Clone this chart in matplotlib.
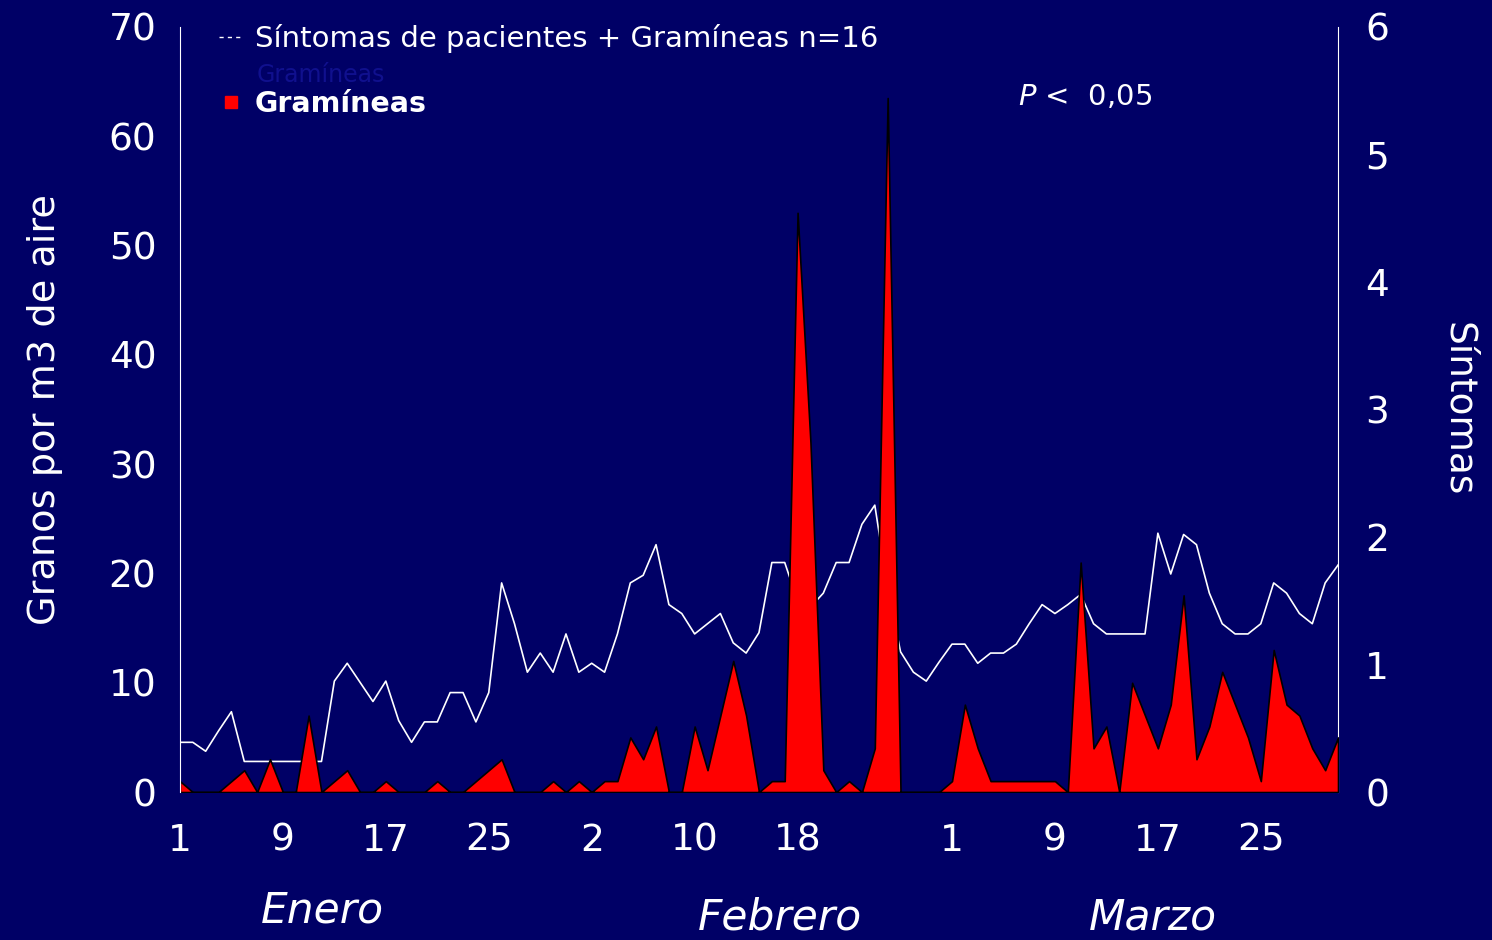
import matplotlib.pyplot as plt
import numpy as np
from matplotlib.lines import Line2D

# días 1..91 (1 enero - 31 marzo)
gramineas = [1, 0, 0, 0, 1, 2, 0, 3, 0, 0, 7, 0, 1, 2, 0, 0, 1, 0, 0, 0,
             1, 0, 0, 1, 2, 3, 0, 0, 0, 1, 0, 1, 0, 1, 1, 5, 3, 6, 0, 0,
             6, 2, 7, 12, 7, 0, 1, 1, 53, 32, 2, 0, 1, 0, 4, 63.5, 0, 0, 0, 0,
             1, 8, 4, 1, 1, 1, 1, 1, 1, 0, 21, 4, 6, 0, 10, 7, 4, 8, 18, 3,
             6, 11, 8, 5, 1, 13, 8, 7, 4, 2, 5]
sintomas = [0.39, 0.39, 0.32, 0.48, 0.63, 0.24, 0.24, 0.24, 0.24, 0.24,
            0.24, 0.24, 0.87, 1.01, 0.86, 0.71, 0.87, 0.56, 0.39, 0.55,
            0.55, 0.78, 0.78, 0.55, 0.78, 1.64, 1.32, 0.94, 1.09, 0.94,
            1.24, 0.94, 1.01, 0.94, 1.24, 1.64, 1.70, 1.94, 1.47, 1.40,
            1.24, 1.32, 1.40, 1.17, 1.09, 1.25, 1.80, 1.80, 1.50, 1.45,
            1.56, 1.80, 1.80, 2.10, 2.25, 1.60, 1.10, 0.94, 0.87, 1.02,
            1.16, 1.16, 1.01, 1.09, 1.09, 1.16, 1.32, 1.47, 1.40, 1.47,
            1.55, 1.32, 1.24, 1.24, 1.24, 1.24, 2.03, 1.71, 2.02, 1.94,
            1.56, 1.32, 1.24, 1.24, 1.32, 1.64, 1.56, 1.40, 1.32, 1.64, 1.78]
dias = np.arange(1, len(gramineas) + 1)

tick_dias = [1, 9, 17, 25, 33, 41, 49, 61, 69, 77, 85]
tick_labels = ["1", "9", "17", "25", "2", "10", "18", "1", "9", "17", "25"]
meses = ["Enero", "Febrero", "Marzo"]
meses_pos = [12.1, 47.6, 76.6]
meses_y = [-0.155, -0.164, -0.164]

navy = "#000066"
plt.rcParams['font.family'] = ['DejaVu Sans']

fig = plt.figure(figsize=(14.92, 9.40), dpi=100, facecolor=navy)
ax = fig.add_axes([0.1206, 0.1574, 0.7762, 0.8139])
ax2 = ax.twinx()

ax2.plot(dias, sintomas, color="white", lw=1.2)
ax.fill_between(dias, gramineas, 0, facecolor="#ff0000", edgecolor="black", lw=1.2)

ax.set_zorder(ax2.get_zorder() + 1)
ax.patch.set_visible(False)
ax2.patch.set_visible(False)

ax.set_xlim(1, 91)
ax.set_ylim(0, 70)
ax2.set_ylim(0, 6)
ax.set_yticks(range(0, 71, 10))
ax2.set_yticks(range(0, 7))
ax.set_xticks(tick_dias, tick_labels)

for a in (ax, ax2):
    for s in a.spines.values():
        s.set_visible(False)
ax.spines["left"].set_visible(True)
ax.spines["left"].set_color("white")
ax2.spines["right"].set_visible(True)
ax2.spines["right"].set_color("white")

ax.tick_params(axis="y", length=0, colors="white", labelsize=27, pad=17)
ax.tick_params(axis="x", length=0, colors="white", labelsize=27, pad=22)
ax2.tick_params(axis="y", length=0, colors="white", labelsize=27, pad=19.5)

ax.set_ylabel("Granos por m3 de aire", color="white", fontsize=27.5, labelpad=33)
ax2.set_ylabel("Síntomas", color="white", fontsize=27, rotation=270, labelpad=63)

for m, p, yy in zip(meses, meses_pos, meses_y):
    ax.text(p, yy, m, transform=ax.get_xaxis_transform(), ha="center", va="center",
            color="white", fontsize=30.5, style="italic")

# texto "fantasma" del original
ax.text(0.066, 0.937, "Gramíneas", transform=ax.transAxes, color="#10108e",
        fontsize=17, va="center")

handles = [Line2D([], [], color="white", lw=1, ls=(0, (3, 3))),
           Line2D([], [], color="#ff0000", marker="s", ls="none", markersize=9)]
leg = ax.legend(handles, ["Síntomas de pacientes + Gramíneas n=16", "Gramíneas"],
                loc="upper left", bbox_to_anchor=(0.034, 1.004), frameon=False,
                fontsize=21, labelcolor="white", handlelength=0.8,
                handletextpad=0.42, labelspacing=1.27, borderpad=0, borderaxespad=0)
leg.get_texts()[1].set_fontweight("bold")
leg.get_texts()[1].set_fontsize(20.5)

ax.text(0.724, 0.909, "$P$ <  0,05", transform=ax.transAxes, color="white",
        fontsize=21, va="center")

fig.savefig("out.png", dpi=100, facecolor=navy)
